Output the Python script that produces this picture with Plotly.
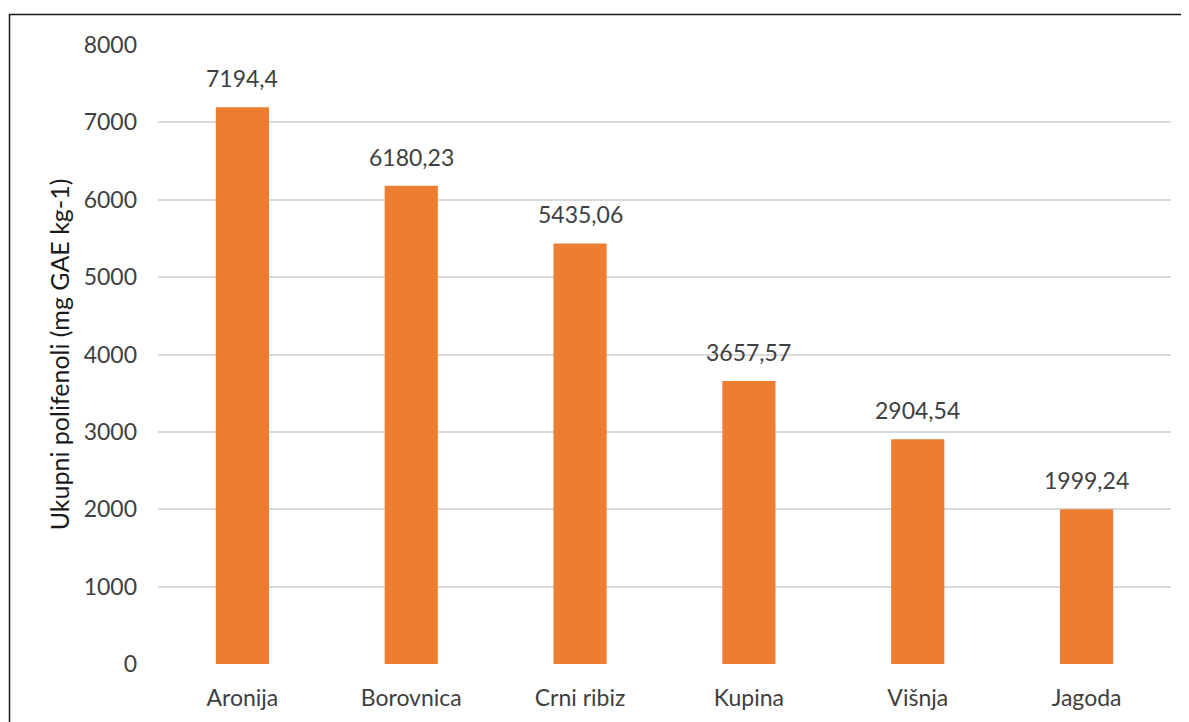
import plotly.graph_objects as go

categories = ["Aronija", "Borovnica", "Crni ribiz", "Kupina", "Višnja", "Jagoda"]
values = [7194.4, 6180.23, 5435.06, 3657.57, 2904.54, 1999.24]
value_labels = ["7194,4", "6180,23", "5435,06", "3657,57", "2904,54", "1999,24"]
y_ticks = [0, 1000, 2000, 3000, 4000, 5000, 6000, 7000, 8000]
y_title = "Ukupni polifenoli (mg GAE kg-1)"

FONT = "Lato, Open Sans, sans-serif"
OFF = 8  # page body margin
W, H = 1189 - OFF, 722 - OFF
L, R, T, B = 158 - OFF, 18, 45 - OFF, 58
pw, ph = W - L - R, H - T - B

fig = go.Figure()
fig.add_trace(go.Bar(
    x=categories, y=values,
    marker=dict(color="#ED7D31", line=dict(width=0)),
    width=0.315,
    hoverinfo="x+y",
))

for c, v, lab in zip(categories, values, value_labels):
    fig.add_annotation(x=c, y=v, text=lab, showarrow=False,
                       yanchor="bottom", yshift=13,
                       font=dict(family=FONT, size=23, color="#404040"))

fig.update_layout(
    width=W, height=H,
    margin=dict(l=L, r=R, t=T, b=B, pad=0),
    paper_bgcolor="white", plot_bgcolor="white",
    showlegend=False,
    bargap=0.685,
    font=dict(family=FONT, size=23, color="#404040"),
    xaxis=dict(
        showgrid=False, zeroline=False, showline=False,
        ticks="", ticklabelstandoff=18,
        tickfont=dict(family=FONT, size=23, color="#404040"),
    ),
    yaxis=dict(
        range=[0, 8000], tickvals=y_ticks,
        showgrid=True, gridcolor="#d9d9d9", gridwidth=1.5,
        zeroline=False, showline=False, ticks="",
        ticklabelstandoff=20,
        tickfont=dict(family=FONT, size=23, color="#404040"),
        title=dict(text=y_title, standoff=6,
                   font=dict(family=FONT, size=25, color="#1a1a1a")),
    ),
    shapes=[dict(
        type="rect", xref="paper", yref="paper",
        x0=(9.5 - 158) / pw, x1=1.2,
        y0=-0.3, y1=(664 - 14.5) / ph,
        line=dict(color="#1a1a1a", width=1.5),
        fillcolor="rgba(0,0,0,0)", layer="below",
    )],
)

fig.write_html("out.html")
